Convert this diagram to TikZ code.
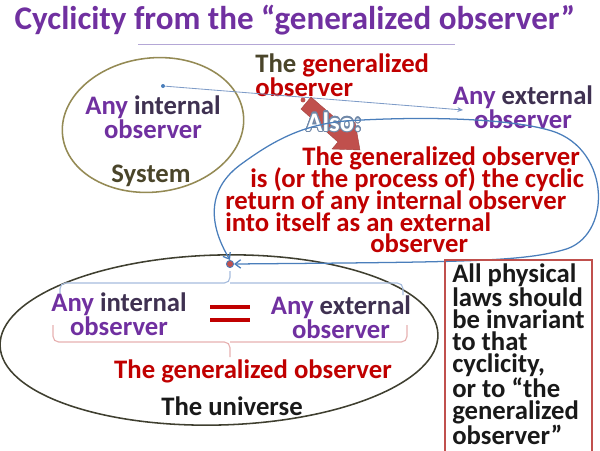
\documentclass[tikz,border=0pt]{standalone}
\usepackage{fontspec}
\setmainfont{Carlito}
\usepackage{contour}
\contourlength{0.8pt}
\usetikzlibrary{arrows.meta,positioning,calc}

\definecolor{titlepurple}{HTML}{7030A0}
\definecolor{anypurple}{HTML}{7030A0}
\definecolor{darkpurple}{HTML}{3F3151}
\definecolor{genred}{HTML}{C00000}
\definecolor{olivetxt}{HTML}{4A452A}
\definecolor{sysoval}{HTML}{948A54}
\definecolor{univoval}{HTML}{3F3F30}
\definecolor{curveblue}{HTML}{4A7EBB}
\definecolor{linkblue}{HTML}{7F9CC8}
\definecolor{bracetop}{HTML}{A6BCDD}
\definecolor{bracebot}{HTML}{E6B0B0}
\definecolor{arrowred}{HTML}{C0504D}
\definecolor{rulegray}{HTML}{B4A7D6}
\definecolor{alsogray}{HTML}{7088A8}

\begin{document}
\begin{tikzpicture}[x=0.025cm, y=-0.025cm,
    txt/.style={font=\bfseries\fontsize{19}{15.8}\selectfont, inner sep=0pt},
    anytxt/.style={txt, align=center, anchor=north},
    gdotsty/.style={circle, fill=arrowred, draw=curveblue, line width=0.6pt, minimum size=0.18cm, inner sep=0pt},
    bdotsty/.style={circle, fill=curveblue, minimum size=0.1cm, inner sep=0pt}]
    \useasboundingbox (0,0) rectangle (600,450);

    % Title
    \node[txt, font=\bfseries\fontsize{23.5}{28}\selectfont, text=titlepurple, anchor=base] (title) at (295,29) {Cyclicity from the “generalized observer”};
    \draw[rulegray, line width=0.6pt] (138,44) -- (455,44);

    % Ovals
    \draw[sysoval, line width=1.1pt, rotate around={7:(153,125)}] (153,125) ellipse [x radius=91, y radius=67];
    \draw[univoval, line width=1.1pt, rotate around={1.5:(219,340)}] (219,340) ellipse [x radius=219, y radius=85];

    % Upper texts
    \node[anytxt] (intA) at (153,95) {\textcolor{anypurple}{Any} \textcolor{darkpurple}{internal}\\\textcolor{anypurple}{observer}};
    \node[txt, text=olivetxt, anchor=base] (sys) at (151,182) {System};
    \node[txt, align=left, anchor=north west, text=genred] (genA) at (255,53) {\textcolor{olivetxt}{The} generalized\\observer};
    \node[anytxt] (extA) at (523,85) {\textcolor{anypurple}{Any} \textcolor{darkpurple}{external}\\\textcolor{anypurple}{observer}};

    % Link internal -> external
    \node[bdotsty] (idot) at (163,86) {};
    \coordinate (eobs) at (463,110);
    \draw[linkblue, line width=0.6pt, -{Stealth[length=4pt,width=3.5pt]}] (idot) -- (eobs);

    % Fat arrow
    \node[circle, fill=arrowred, minimum size=0.12cm, inner sep=0pt] (gsrc) at (303,100) {};
    \filldraw[fill=arrowred, draw=arrowred!85!black, line width=0.3pt]
        (311,97) -- (349,130) -- (355,122) -- (360,150) -- (332,149) -- (338,142) -- (301,109) -- cycle;
    \node[txt, text=white, anchor=base] (also) at (334,131) {\contour{alsogray}{Also:}};

    % Cyclic statement
    \foreach \lx/\by/\ln [count=\i] in {302/165/{The generalized observer},
        250/187/{is (or the process of) the cyclic}, 225/209/{return of any internal observer},
        225/231/{into itself as an external}, 370/252/{observer}}
        \node[txt, text=genred, anchor=base west] (cyc\i) at (\lx,\by) {\ln};

    % Cycle back into the universe
    \node[gdotsty] (gdot) at (230,264) {};
    \draw[curveblue, line width=0.9pt, {Straight Barb[length=4pt,width=6pt]}-{Straight Barb[length=4pt,width=6pt]}]
        (gdot.north) .. controls (215,235) and (200,195) .. (240,165)
        .. controls (270,143) and (300,125) .. (345,121)
        .. controls (420,116) and (510,118) .. (552,131)
        .. controls (612,150) and (612,238) .. (563,250)
        .. controls (520,262) and (460,262) .. (gdot.east);

    % Braces
    \draw[bracetop, line width=0.8pt, rounded corners=4pt] (60,295) -- (60,283) -- (230,283) -- (230,271);
    \draw[bracetop, line width=0.8pt, rounded corners=4pt] (403,295) -- (403,283) -- (230,283);
    \draw[bracebot, line width=0.8pt, rounded corners=4pt] (53,325) -- (53,342) -- (230,342) -- (230,357);
    \draw[bracebot, line width=0.8pt, rounded corners=4pt] (407,325) -- (407,342) -- (230,342);

    % Lower texts
    \node[anytxt] (intB) at (119,292) {\textcolor{anypurple}{Any} \textcolor{darkpurple}{internal}\\\textcolor{anypurple}{observer}};
    \node[anytxt] (extB) at (341,295) {\textcolor{anypurple}{Any} \textcolor{darkpurple}{external}\\\textcolor{anypurple}{observer}};
    \fill[genred] (210,305) rectangle (250,309);
    \fill[genred] (210,318) rectangle (250,322);
    \node[txt, text=genred, anchor=base] (genB) at (253,378) {The generalized observer};
    \node[txt, text=black!90, anchor=base] (univ) at (232,415) {The universe};

    % Laws box
    \draw[arrowred, line width=0.8pt] (445,260) rectangle (592,460);
    \node[txt, align=left, anchor=north west, text=black!90, font=\bfseries\fontsize{19}{15.6}\selectfont] (laws) at (452,263) {All physical\\laws should\\be invariant\\to that\\cyclicity,\\or to “the\\generalized\\observer”};
\end{tikzpicture}
\end{document}
